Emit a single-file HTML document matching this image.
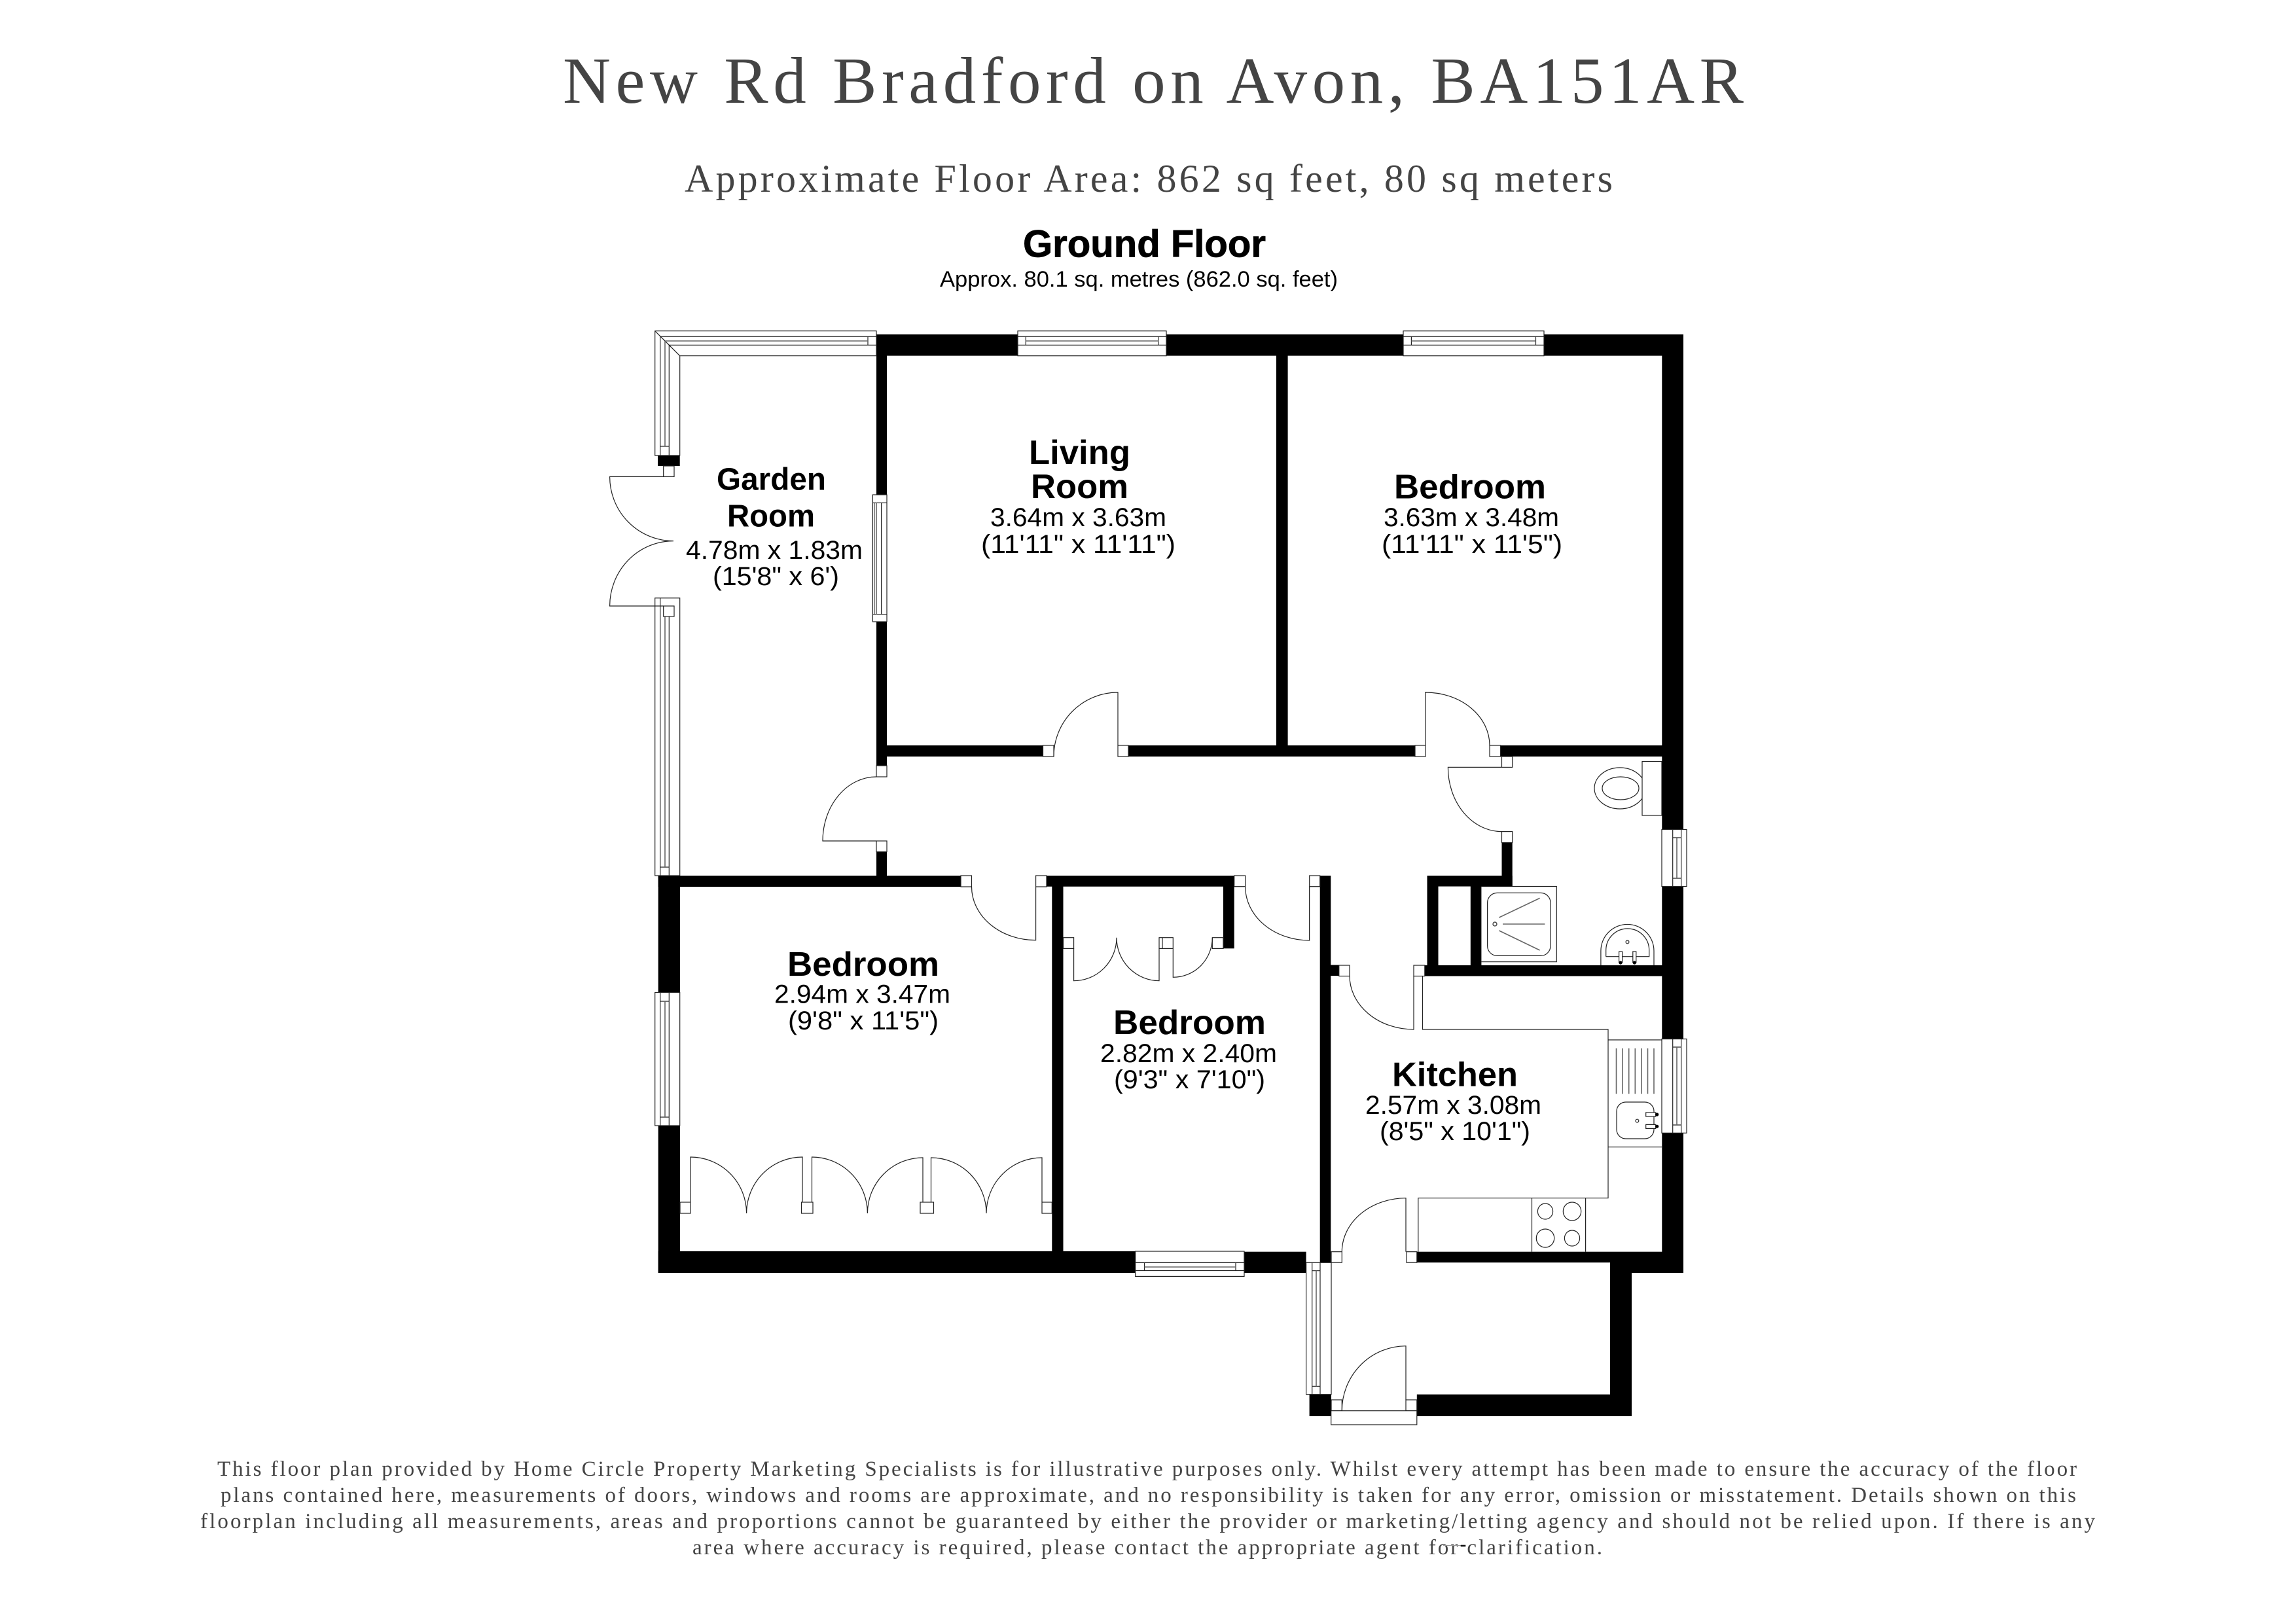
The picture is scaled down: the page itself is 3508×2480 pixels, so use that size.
<!DOCTYPE html>
<html><head><meta charset="utf-8"><title>New Rd Bradford on Avon, BA151AR</title>
<style>
html,body{margin:0;padding:0;background:#fff}
svg{display:block}
.s{font-family:"Liberation Serif",serif;fill:#444}
.a{font-family:"Liberation Sans",sans-serif;fill:#000}
.b{font-weight:bold}
.l{fill:none;stroke:#222;stroke-width:1.2}
.g{fill:none;stroke:#666;stroke-width:1.6}
.f{fill:#fff;stroke:#222;stroke-width:1.2}
</style></head><body>
<svg xmlns="http://www.w3.org/2000/svg" width="3508" height="2480" viewBox="0 0 3508 2480">
<rect width="3508" height="2480" fill="#fff"/>

<!-- headings -->
<text class="s" x="860" y="157" font-size="101" textLength="1804" lengthAdjust="spacing">New Rd Bradford on Avon, BA151AR</text>
<text class="s" x="1046" y="293" font-size="60" textLength="1418" lengthAdjust="spacing">Approximate Floor Area: 862 sq feet, 80 sq meters</text>
<text class="a b" x="1563" y="392.5" font-size="58" textLength="371" lengthAdjust="spacingAndGlyphs" stroke="#000" stroke-width="0.8">Ground Floor</text>
<text class="a" x="1436" y="438" font-size="34" textLength="608" lengthAdjust="spacingAndGlyphs">Approx. 80.1 sq. metres (862.0 sq. feet)</text>

<!-- walls -->
<g fill="#000">
<rect x="1339" y="511" width="1233" height="32.6"/>
<rect x="2539.3" y="511" width="32.7" height="1434"/>
<rect x="1950" y="543" width="17.6" height="613"/>
<rect x="1355" y="1139" width="238.5" height="17"/>
<rect x="1724" y="1139" width="438" height="17"/>
<rect x="2292.5" y="1139" width="247" height="17"/>
<rect x="1339" y="511" width="16" height="245"/>
<rect x="1339" y="950" width="16" height="220"/>
<rect x="1339" y="1301.6" width="16" height="37"/>
<rect x="1005.7" y="1338" width="462.3" height="17"/>
<rect x="1005.7" y="1338" width="33.3" height="178.5"/>
<rect x="1005.7" y="1720" width="33.3" height="225"/>
<rect x="1005.7" y="1912" width="729" height="33"/>
<rect x="1607.3" y="1350" width="17.2" height="565"/>
<rect x="1599" y="1338" width="286.7" height="16.7"/>
<rect x="1869" y="1338" width="16.7" height="111.3"/>
<rect x="1901" y="1912.7" width="94.6" height="32.3"/>
<rect x="2016.7" y="1338" width="16.6" height="595"/>
<rect x="2000.6" y="2130.7" width="33.4" height="33.3"/>
<rect x="2033" y="1474.5" width="12.8" height="16.5"/>
<rect x="2176.8" y="1475" width="362.7" height="16.5"/>
<rect x="2180.5" y="1338" width="17" height="140"/>
<rect x="2180.5" y="1338" width="130.2" height="16.5"/>
<rect x="2294.5" y="1287.6" width="16.2" height="67"/>
<rect x="2246.8" y="1354" width="16.6" height="122"/>
<rect x="2164.8" y="1912.7" width="407.2" height="16.5"/>
<rect x="2493" y="1925" width="79" height="20"/>
<rect x="2460" y="1925" width="33" height="239"/>
<rect x="2164.8" y="2130.7" width="328.2" height="33.3"/>
<rect x="1005" y="696" width="33.7" height="16"/>
</g>

<!-- garden room L window -->
<path class="f" d="M1000.7 505.7H1339V543.7H1038.7V696H1000.7Z"/>
<path class="l" d="M1000.7 505.7L1038.7 543.7M1008.7 514.3H1339M1022.3 527.3H1339M1008.7 514.3V696M1022.3 527.3V696M1326 514.3V527.3M1008.7 682H1022.3"/>
<path class="g" d="M1016 521H1326M1016 521V682"/>
<rect class="f" x="1013.7" y="712" width="16.3" height="16.4"/>
<!-- garden lower window -->
<rect class="f" x="1000.7" y="913.8" width="38" height="424.2"/>
<path class="l" d="M1008.7 913.8V1338M1022.3 926V1338M1008.7 1325H1022.3"/>
<path class="g" d="M1016 942V1325"/>
<rect class="f" x="1013.7" y="926" width="16.3" height="16"/>
<!-- french doors -->
<path class="l" d="M1013.7 728.4H931.6A97.4 98.2 0 0 0 1029 826.6M1013.7 926H931.6A97.4 99.4 0 0 1 1029 826.6"/>
<!-- garden right window -->
<rect class="f" x="1333.4" y="756" width="21.6" height="194"/>
<path class="l" d="M1333.4 768.4H1355M1333.4 938.7H1355M1335.7 768.4V938.7M1346.6 768.4V938.7"/>
<path class="g" d="M1339 768.4V938.7"/>
<!-- living window -->
<rect class="f" x="1555" y="505.7" width="227" height="38"/>
<path class="l" d="M1555 514.3H1782M1555 527.3H1782M1567.3 514.3V527.3M1769.7 514.3V527.3"/>
<path class="g" d="M1567.3 521H1769.7"/>
<!-- bedroom window -->
<rect class="f" x="2144" y="505.7" width="215" height="38"/>
<path class="l" d="M2144 514.3H2359M2144 527.3H2359M2156.4 514.3V527.3M2346.5 514.3V527.3"/>
<path class="g" d="M2156.4 521H2346.5"/>
<!-- bedroom left window -->
<rect class="f" x="1000.7" y="1516.5" width="38" height="203.5"/>
<path class="l" d="M1008.7 1516.5V1720M1022.3 1516.5V1720M1008.7 1530H1022.3M1008.7 1707H1022.3"/>
<path class="g" d="M1016 1530V1707"/>
<!-- small bedroom window -->
<rect class="f" x="1734.7" y="1912" width="166.3" height="38.4"/>
<path class="l" d="M1734.7 1929.4H1901M1734.7 1941.5H1901M1748.5 1929.4V1941.5M1888 1929.4V1941.5"/>
<path class="g" d="M1748.5 1936H1888"/>
<!-- porch window -->
<rect class="f" x="1995.6" y="1929.3" width="38.4" height="201.4"/>
<path class="l" d="M2004.7 1929.3V2130.7M2017 1929.3V2130.7M2004.7 1941.7H2017M2004.7 2118.3H2017"/>
<path class="g" d="M2011 1941.7V2118.3"/>
<!-- bath window -->
<rect class="f" x="2539" y="1267.5" width="38" height="87"/>
<path class="l" d="M2555.7 1267.5V1354.5M2568.6 1267.5V1354.5M2555.7 1280H2568.6M2555.7 1342H2568.6"/>
<path class="g" d="M2562 1280V1342"/>
<!-- kitchen window -->
<rect class="f" x="2539" y="1587.6" width="38" height="143.7"/>
<path class="l" d="M2555.7 1587.6V1731.3M2568.6 1587.6V1731.3M2555.7 1600H2568.6M2555.7 1719H2568.6"/>
<path class="g" d="M2562 1600V1719"/>

<!-- door frames -->
<g class="f">
<rect x="1593.5" y="1139" width="16.5" height="17"/>
<rect x="1708" y="1139" width="16" height="17"/>
<rect x="1339" y="1170" width="16" height="17"/>
<rect x="1339" y="1285" width="16" height="16.6"/>
<rect x="2162" y="1139" width="16" height="17"/>
<rect x="2276" y="1139" width="16.5" height="17"/>
<rect x="2294.5" y="1156" width="16.2" height="16.4"/>
<rect x="2294.5" y="1270.6" width="16.2" height="17"/>
<rect x="1468" y="1338" width="16.5" height="17"/>
<rect x="1582.6" y="1338" width="16.4" height="17"/>
<rect x="1885.7" y="1338" width="17" height="16.7"/>
<rect x="2000.7" y="1338" width="16" height="16.7"/>
<rect x="2045.8" y="1475" width="16.2" height="16.5"/>
<rect x="2160" y="1475" width="16.8" height="16.5"/>
<rect x="2034" y="1912.7" width="16.3" height="16.5"/>
<rect x="2149" y="1912.7" width="15.8" height="16.5"/>
<rect x="2034" y="2139" width="16.3" height="16.7"/>
<rect x="2148" y="2139" width="16.8" height="16.7"/>
<rect x="2033.7" y="2155.7" width="131.1" height="21.3"/>
<rect x="1039" y="1837" width="16" height="17"/>
<rect x="1224.5" y="1837" width="17.5" height="17"/>
<rect x="1406" y="1837" width="20.5" height="17"/>
<rect x="1592" y="1837" width="15.3" height="17"/>
<rect x="1624.5" y="1432.7" width="16.1" height="16.7"/>
<rect x="1771" y="1432.7" width="21.3" height="16.7"/>
<rect x="1852.3" y="1432.7" width="16.7" height="16.7"/>
</g>

<!-- door leaves -->
<g class="l">
<path d="M1610 1156A98 98 0 0 1 1708 1058V1139"/>
<path d="M1339 1187A82 98 0 0 0 1257 1285H1339"/>
<path d="M2276 1139A98 81 0 0 0 2177.7 1058V1139"/>
<path d="M2294.5 1172.4H2212.4A82 98 0 0 0 2294.5 1270.6"/>
<path d="M1484.5 1355A98 81.6 0 0 0 1582.6 1436.6V1355"/>
<path d="M1902.7 1355A98 82 0 0 0 2000.6 1437V1355"/>
<path d="M2062 1491A98 82 0 0 0 2160 1573V1491"/>
<path d="M2050.3 1912.7A98 82 0 0 1 2148 1830.7V1912.7"/>
<path d="M2050.3 2155.7A98 99 0 0 1 2148 2056.7V2139"/>
<path d="M1055 1837V1768A85.6 86 0 0 1 1140.6 1854A85.4 86 0 0 1 1226 1768V1837"/>
<path d="M1240.5 1837V1768A85 86 0 0 1 1325.4 1854A84.6 85 0 0 1 1410 1769V1837"/>
<path d="M1422.5 1837V1769A84.5 85 0 0 1 1507 1854A85 85 0 0 1 1592 1769V1837"/>
<path d="M1640.6 1449.4V1498.7A65.4 66 0 0 0 1706 1432.7A65.5 66 0 0 0 1771 1498.7V1449.4"/>
<path d="M1776 1432.7V1449.4"/>
<path d="M1792.3 1449.4V1493.3A60 60.5 0 0 0 1852.3 1433"/>
</g>

<!-- kitchen units -->
<g class="l">
<path d="M2173.5 1491V1573H2457V1830.7H2166.8V1912.7"/>
<path d="M2457 1589H2539M2457 1752.7H2539"/>
<path d="M2340.5 1830.7V1912.7M2422.6 1830.7V1912.7"/>
<ellipse cx="2361" cy="1851" rx="11.6" ry="12"/>
<ellipse cx="2402" cy="1851" rx="13.7" ry="14"/>
<ellipse cx="2361" cy="1892" rx="13.7" ry="14"/>
<ellipse cx="2402" cy="1892" rx="11.6" ry="12"/>
<path class="g" d="M2469.5 1602V1671.5M2479.1 1602V1671.5M2488.7 1602V1671.5M2498.3 1602V1671.5M2507.9 1602V1671.5M2517.5 1602V1671.5M2527 1602V1671.5"/>
<rect x="2470" y="1684" width="57" height="56" rx="14"/>
<circle cx="2501.4" cy="1712.6" r="2.4"/>
</g>
<rect class="f" x="2514.7" y="1700" width="15" height="6"/>
<rect class="f" x="2514.7" y="1718.4" width="15" height="6"/>
<circle cx="2531.7" cy="1703" r="2.6"/><circle cx="2531.7" cy="1721.2" r="2.6"/>

<!-- bathroom fittings -->
<g class="l">
<ellipse cx="2475" cy="1204.5" rx="39" ry="31.5" fill="#fff"/>
<ellipse cx="2476" cy="1204.5" rx="28" ry="17.5"/>
</g>
<rect class="f" x="2509" y="1163.5" width="30" height="82.5"/>
<path class="l" d="M2263.4 1354.5H2378.3V1469.7H2263.4"/>
<rect class="l" x="2272.6" y="1364.4" width="96.4" height="96" rx="15"/>
<circle class="l" cx="2284" cy="1412" r="3"/>
<path class="g" d="M2290.4 1402L2352.6 1372.4M2296 1412H2360.4M2290.4 1422L2352.6 1452"/>
<path class="l" d="M2445.9 1475V1453A40.5 40.5 0 0 1 2527 1453V1475"/>
<path class="l" d="M2453.7 1461.7V1452A33 33 0 0 1 2519.7 1452V1461.7H2453.7"/>
<circle class="l" cx="2486.5" cy="1439.4" r="2.4"/>
<rect class="f" x="2473.6" y="1454" width="5" height="16.6"/>
<rect class="f" x="2494.8" y="1454" width="5" height="16.6"/>
<circle cx="2476" cy="1471" r="2.6"/><circle cx="2497.3" cy="1471" r="2.6"/>

<!-- room labels -->
<text class="a b" x="1095" y="748.4" font-size="48" textLength="167" lengthAdjust="spacingAndGlyphs">Garden</text>
<text class="a b" x="1111" y="804.7" font-size="48" textLength="134" lengthAdjust="spacingAndGlyphs">Room</text>
<text class="a" x="1048" y="854" font-size="40" textLength="270" lengthAdjust="spacingAndGlyphs">4.78m x 1.83m</text>
<text class="a" x="1089" y="893.8" font-size="40" textLength="193" lengthAdjust="spacingAndGlyphs">(15'8" x 6')</text>

<text class="a b" x="1572" y="709" font-size="52" textLength="155" lengthAdjust="spacingAndGlyphs">Living</text>
<text class="a b" x="1575" y="761" font-size="52" textLength="149" lengthAdjust="spacingAndGlyphs">Room</text>
<text class="a" x="1513" y="804" font-size="40" textLength="269" lengthAdjust="spacingAndGlyphs">3.64m x 3.63m</text>
<text class="a" x="1499" y="845" font-size="40" textLength="297" lengthAdjust="spacingAndGlyphs">(11'11" x 11'11")</text>

<text class="a b" x="2130" y="761.7" font-size="52" textLength="232" lengthAdjust="spacingAndGlyphs">Bedroom</text>
<text class="a" x="2114" y="804" font-size="40" textLength="268" lengthAdjust="spacingAndGlyphs">3.63m x 3.48m</text>
<text class="a" x="2111" y="845" font-size="40" textLength="276" lengthAdjust="spacingAndGlyphs">(11'11" x 11'5")</text>

<text class="a b" x="1203" y="1491" font-size="52" textLength="232" lengthAdjust="spacingAndGlyphs">Bedroom</text>
<text class="a" x="1183" y="1532.6" font-size="40" textLength="269" lengthAdjust="spacingAndGlyphs">2.94m x 3.47m</text>
<text class="a" x="1204" y="1573" font-size="40" textLength="230" lengthAdjust="spacingAndGlyphs">(9'8" x 11'5")</text>

<text class="a b" x="1701" y="1580" font-size="52" textLength="233" lengthAdjust="spacingAndGlyphs">Bedroom</text>
<text class="a" x="1681" y="1622.8" font-size="40" textLength="270" lengthAdjust="spacingAndGlyphs">2.82m x 2.40m</text>
<text class="a" x="1702" y="1663" font-size="40" textLength="231" lengthAdjust="spacingAndGlyphs">(9'3" x 7'10")</text>

<text class="a b" x="2127" y="1659.5" font-size="52" textLength="192" lengthAdjust="spacingAndGlyphs">Kitchen</text>
<text class="a" x="2086" y="1702" font-size="40" textLength="269" lengthAdjust="spacingAndGlyphs">2.57m x 3.08m</text>
<text class="a" x="2108" y="1742" font-size="40" textLength="230" lengthAdjust="spacingAndGlyphs">(8'5" x 10'1")</text>

<!-- footer -->
<g style="fill:#4a4a4a">
<text class="s" x="332" y="2255" font-size="33" textLength="2841" lengthAdjust="spacing">This floor plan provided by Home Circle Property Marketing Specialists is for illustrative purposes only. Whilst every attempt has been made to ensure the accuracy of the floor</text>
<text class="s" x="337" y="2295" font-size="33" textLength="2835" lengthAdjust="spacing">plans contained here, measurements of doors, windows and rooms are approximate, and no responsibility is taken for any error, omission or misstatement. Details shown on this</text>
<text class="s" x="306" y="2335" font-size="33" textLength="2895" lengthAdjust="spacing">floorplan including all measurements, areas and proportions cannot be guaranteed by either the provider or marketing/letting agency and should not be relied upon. If there is any</text>
<text class="s" x="1058" y="2375" font-size="33" textLength="1390" lengthAdjust="spacing">area where accuracy is required, please contact the appropriate agent for clarification.</text>
</g>
<rect x="2205" y="2361" width="27" height="1" fill="#999"/>
<rect x="2231.7" y="2360.7" width="7.6" height="2.6" fill="#111"/>
</svg>
</body></html>
